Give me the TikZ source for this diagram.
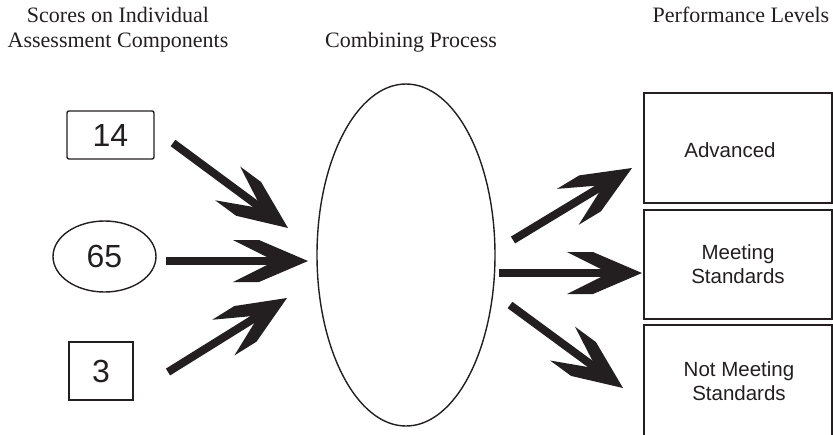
\documentclass[tikz,border=0pt]{standalone}
\usepackage{fontspec}
\setmainfont{Liberation Serif}
\newfontfamily\labfont{Liberation Sans}
\usetikzlibrary{shapes.geometric}
\definecolor{ink}{RGB}{35,31,32}
\tikzset{
  title/.style={anchor=base, font=\fontsize{22}{26}\selectfont, text=ink, inner sep=0pt},
  score/.style={draw=ink, line width=1.4pt, text=ink, font=\labfont\fontsize{32}{36}\selectfont, inner sep=0pt},
  level/.style={draw=ink, line width=1.4pt, text=ink, font=\labfont\fontsize{20.5}{25}\selectfont, inner sep=0pt, align=center, minimum width=188pt},
  levtext/.style={text=ink, font=\labfont\fontsize{20.5}{25}\selectfont, inner sep=0pt, align=center},
  shaft/.style={draw=ink, line width=8pt, shorten >=30pt},
  barb/.style={fill=ink, draw=none},
}
\newcommand\barbedarrow[2]{%
  \draw[shaft] (#1) -- (#2);
  \pgfmathanglebetweenpoints{\pgfpointanchor{#1}{center}}{\pgfpointanchor{#2}{center}}%
  \let\barbang\pgfmathresult
  \fill[barb, shift={(#2)}, rotate=\barbang]
    (0,0) -- (-49,21) -- (-75,21) -- (-33,0) -- (-75,-21) -- (-49,-21) -- cycle;
}
\begin{document}
\begin{tikzpicture}[x=1pt, y=-1pt]
\useasboundingbox (0,0) rectangle (833,434);
\clip (0,0) rectangle (833,434);
% titles
\node[title] (t1a) at (118,22) {Scores on Individual};
\node[title] (t1b) at (118,47) {Assessment Components};
\node[title] (t2) at (411,47) {Combining Process};
\node[title] (t3) at (741,22) {Performance Levels};
% scores
\node[score, rectangle, rounded corners=2pt, minimum width=87pt, minimum height=48pt] (s14) at (110.5,135) {14};
\node[score, ellipse, minimum width=103pt, minimum height=71pt] (s65) at (104.5,256.5) {65};
\node[score, rectangle, minimum width=64pt, minimum height=58pt] (s3) at (101,371) {3};
% combining
\node[draw=ink, line width=1.4pt, ellipse, minimum width=178pt, minimum height=342pt, inner sep=0pt] (comb) at (406,255) {};
% levels
\node[level, minimum height=110pt] (adv) at (738,148) {};
\node[levtext] (advt) at (730,150) {Advanced};
\node[level, minimum height=109pt] (meet) at (738,264.5) {Meeting\\[-1pt]Standards};
\node[level, minimum height=126pt] (notm) at (738,388) {};
\node[levtext] (notmt) at (739,381) {Not Meeting\\[-1pt]Standards};
% arrow ends
\coordinate (a1s) at (173,143); \coordinate (a1e) at (288,228);
\coordinate (a2s) at (166,261); \coordinate (a2e) at (308,261);
\coordinate (a3s) at (168,372); \coordinate (a3e) at (287,298);
\coordinate (a4s) at (513,240); \coordinate (a4e) at (632,168);
\coordinate (a5s) at (499,273); \coordinate (a5e) at (642,273);
\coordinate (a6s) at (510,305); \coordinate (a6e) at (623,388);
\barbedarrow{a1s}{a1e}
\barbedarrow{a2s}{a2e}
\barbedarrow{a3s}{a3e}
\barbedarrow{a4s}{a4e}
\barbedarrow{a5s}{a5e}
\barbedarrow{a6s}{a6e}
\end{tikzpicture}
\end{document}
